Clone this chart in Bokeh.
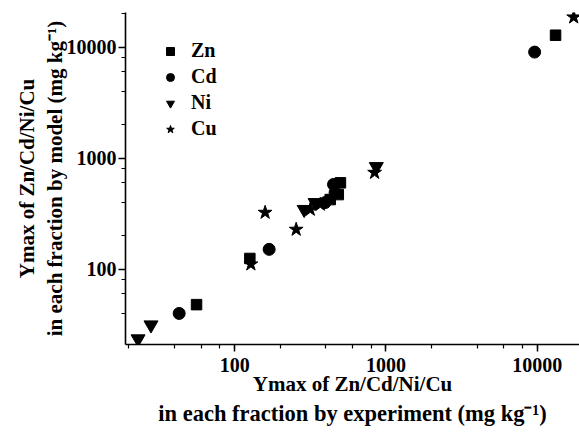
from bokeh.plotting import figure
from bokeh.models import PrintfTickFormatter, LogTicker, Legend, LegendItem, Range1d, Title
from bokeh.embed import file_html
from bokeh.resources import INLINE

# Data
zn_x = [56, 126, 428, 484, 500, 13200]
zn_y = [48, 125, 424, 470, 600, 12800]
cd_x = [43, 169, 396, 461, 450, 9600]
cd_y = [40, 151, 398, 490, 580, 9020]
ni_x = [23, 28, 288, 340, 863]
ni_y = [23.6, 31.5, 345, 398, 839]
cu_x = [128, 159, 255, 316, 368, 841, 17400]
cu_y = [111, 324, 228, 345, 383, 742, 18600]
series_names = ["Zn", "Cd", "Ni", "Cu"]

x_title_1 = "Ymax of Zn/Cd/Ni/Cu"
x_title_2 = "in each fraction by experiment (mg kg\u207b\u00b9)"
y_title = "Ymax of Zn/Cd/Ni/Cu\nin each fraction by model (mg kg\u207b\u00b9)"

FONT = "Liberation Serif"

p = figure(width=579, height=433, x_axis_type="log", y_axis_type="log",
           x_range=Range1d(19, 19000), y_range=Range1d(21, 20500),
           output_backend="svg", toolbar_location=None,
           min_border_left=125, min_border_right=0, min_border_top=12, min_border_bottom=89)
p.outline_line_color = None
p.grid.visible = False
p.background_fill_color = "white"

r_zn = p.scatter(zn_x, zn_y, marker="square", size=10.5, color="black")
r_cd = p.scatter(cd_x, cd_y, marker="circle", size=12, color="black")
r_ni = p.scatter(ni_x, ni_y, marker="inverted_triangle", size=14, color="black")
r_cu = p.scatter(cu_x, cu_y, marker="star", size=14.5, color="black")

for ax in (p.xaxis[0], p.yaxis[0]):
    ax.ticker = LogTicker(desired_num_ticks=4)
    ax.formatter = PrintfTickFormatter(format="%d")
    ax.axis_line_width = 1.6
    ax.axis_line_color = "black"
    ax.major_tick_line_width = 1.5
    ax.minor_tick_line_width = 1.2
    ax.major_tick_out = 7
    ax.major_tick_in = 0
    ax.minor_tick_out = 4
    ax.minor_tick_in = 0
    ax.major_label_text_font = FONT
    ax.major_label_text_font_style = "bold"
    ax.major_label_text_font_size = "20px"
    ax.major_label_text_color = "black"
    ax.axis_label_text_font = FONT
    ax.axis_label_text_font_style = "bold"
    ax.axis_label_text_font_size = "21px"
    ax.axis_label_text_color = "black"
    ax.axis_label_text_line_height = 1.16
    ax.axis_label_standoff = -3
p.xaxis[0].major_label_standoff = 6
p.yaxis[0].major_label_standoff = 2
p.xaxis[0].axis_label = x_title_1
p.yaxis[0].axis_label = y_title

p.add_layout(Title(text=x_title_2, align="center", offset=14, standoff=0,
                   text_font=FONT, text_font_style="bold", text_font_size="22.5px",
                   text_color="black"), "below")

legend = Legend(items=[LegendItem(label=n, renderers=[r]) for n, r in
                       zip(series_names, [r_zn, r_cd, r_ni, r_cu])],
                location="top_left")
legend.margin = 27
legend.padding = 0
legend.spacing = 3
legend.glyph_width = 36
legend.glyph_height = 20
legend.label_height = 20
legend.label_standoff = 3
legend.border_line_color = None
legend.background_fill_alpha = 0
legend.label_text_font = FONT
legend.label_text_font_style = "bold"
legend.label_text_font_size = "20px"
legend.label_text_color = "black"
p.add_layout(legend)

open("out.html", "w").write(file_html(p, INLINE))
